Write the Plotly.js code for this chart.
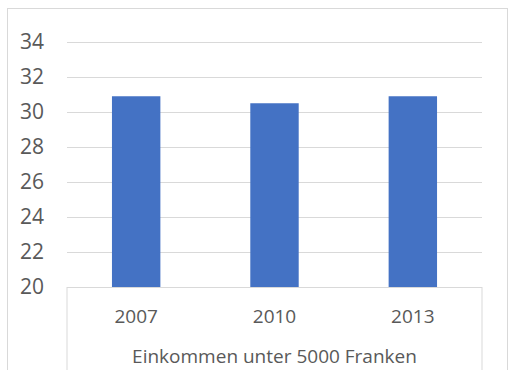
<!DOCTYPE html>
<html>
<head>
<meta charset="utf-8">
<script src="https://cdn.plot.ly/plotly-3.0.1.min.js"></script>
<style>
  html, body { margin: 0; padding: 0; background: #ffffff; }
  #wrap { position: relative; width: 511px; height: 370px; overflow: hidden; }
  #frame { position: absolute; left: 7px; top: 8px; width: 501px; height: 400px; border: 1px solid #d9d9d9; box-sizing: border-box; }
  #chart { position: absolute; left: 0; top: 0; width: 511px; height: 370px; }
</style>
</head>
<body>
<div id="wrap">
  <div id="frame"></div>
  <div id="chart"></div>
</div>
<script>
const categories = ["2007", "2010", "2013"];
const values = [30.9, 30.5, 30.9];
const yTicks = [20, 22, 24, 26, 28, 30, 32, 34];
const xTitle = "Einkommen unter 5000 Franken";

const trace = {
  type: "bar",
  x: categories,
  y: values,
  marker: { color: "#4472C4" },
  hoverinfo: "x+y"
};

const layout = {
  width: 511,
  height: 370,
  margin: { l: 67, r: 29, t: 41, b: 83, pad: 0 },
  paper_bgcolor: "rgba(0,0,0,0)",
  plot_bgcolor: "rgba(0,0,0,0)",
  bargap: 0.65,
  showlegend: false,
  font: { family: "Open Sans, Noto Sans, sans-serif", color: "#595959" },
  xaxis: {
    type: "category",
    showgrid: false,
    showline: true,
    linecolor: "#d9d9d9",
    linewidth: 1,
    ticks: "",
    tickfont: { size: 19, color: "#595959" },
    ticklabelstandoff: 12,
    title: { text: xTitle, font: { size: 19, color: "#595959" }, standoff: 21 },
    fixedrange: true
  },
  yaxis: {
    range: [20, 34.06],
    tickvals: yTicks,
    ticktext: yTicks.map(String),
    showgrid: true,
    gridcolor: "#d9d9d9",
    gridwidth: 1,
    zeroline: false,
    showline: false,
    ticks: "",
    tickfont: { size: 21, color: "#595959" },
    ticklabelstandoff: 22,
    fixedrange: true
  },
  shapes: [
    { type: "line", xref: "paper", yref: "paper", x0: 0, x1: 0, y0: 0, y1: -0.4, line: { color: "#d9d9d9", width: 1 } },
    { type: "line", xref: "paper", yref: "paper", x0: 1, x1: 1, y0: 0, y1: -0.4, line: { color: "#d9d9d9", width: 1 } }
  ]
};

Plotly.newPlot("chart", [trace], layout, { displayModeBar: false, staticPlot: true });
</script>
</body>
</html>
